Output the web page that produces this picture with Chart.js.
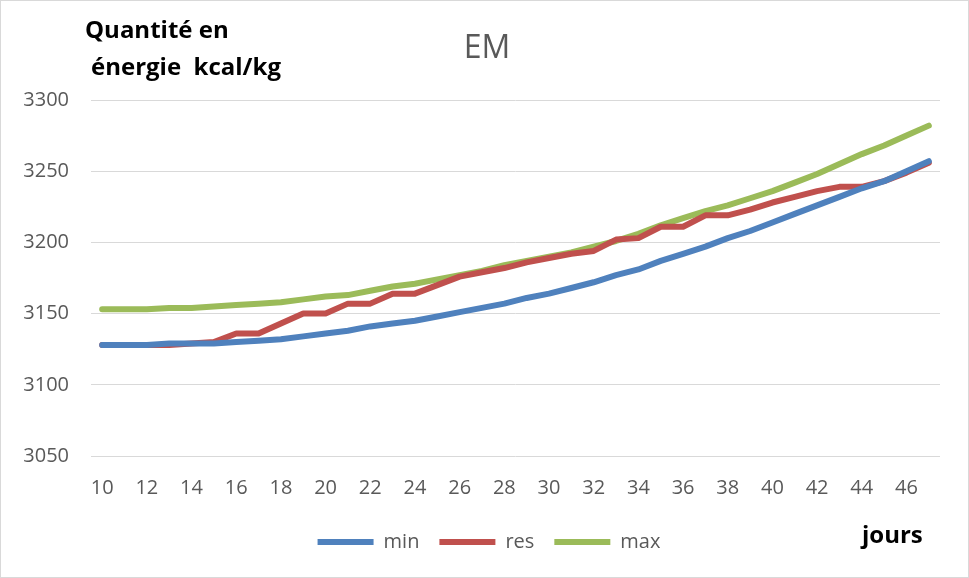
<!DOCTYPE html>
<html>
<head>
<meta charset="utf-8">
<script src="https://cdn.jsdelivr.net/npm/chart.js@4.4.1/dist/chart.umd.min.js"></script>
<style>
  html, body { margin: 0; padding: 0; background: #fff; }
  canvas { display: block; }
</style>
</head>
<body>
<canvas id="em" width="969" height="578"></canvas>
<script>
// jours d'élevage
const jours = [10, 11, 12, 13, 14, 15, 16, 17, 18, 19, 20, 21, 22, 23, 24, 25, 26, 27, 28,
  29, 30, 31, 32, 33, 34, 35, 36, 37, 38, 39, 40, 41, 42, 43, 44, 45, 46, 47];

// énergie métabolisable (kcal/kg)
const minEM = [3128, 3128, 3128, 3129, 3129, 3129, 3130, 3131, 3132, 3134, 3136, 3138, 3141,
  3143, 3145, 3148, 3151, 3154, 3157, 3161, 3164, 3168, 3172, 3177, 3181, 3187, 3192, 3197,
  3203, 3208, 3214, 3220, 3226, 3232, 3238, 3243, 3250, 3257];
const resEM = [3128, 3128, 3128, 3128, 3129, 3130, 3136, 3136, 3143, 3150, 3150, 3157, 3157,
  3164, 3164, 3170, 3176, 3179, 3182, 3186, 3189, 3192, 3194, 3202, 3203, 3211, 3211, 3219,
  3219, 3223, 3228, 3232, 3236, 3239, 3239, 3243, 3249, 3256];
const maxEM = [3153, 3153, 3153, 3154, 3154, 3155, 3156, 3157, 3158, 3160, 3162, 3163, 3166,
  3169, 3171, 3174, 3177, 3180, 3184, 3187, 3190, 3193, 3197, 3201, 3206, 3212, 3217, 3222,
  3226, 3231, 3236, 3242, 3248, 3255, 3262, 3268, 3275, 3282];

const yTicks = [3050, 3100, 3150, 3200, 3250, 3300];

const GRIS = '#595959';

// textes libres : titre, légendes des axes, cadre
const textes = {
  id: 'textes',
  afterLayout(chart) {
    // légende un peu décalée vers la droite
    chart.legend.left += 19;
    chart.legend.right += 19;
  },
  afterDraw(chart) {
    const ctx = chart.ctx;
    ctx.save();
    ctx.strokeStyle = '#d9d9d9';
    ctx.lineWidth = 1;
    ctx.strokeRect(0.5, 0.5, chart.width - 1, chart.height - 1);

    ctx.fillStyle = GRIS;
    ctx.font = '32px "Open Sans"';
    ctx.textAlign = 'center';
    ctx.textBaseline = 'middle';
    ctx.fillText('EM', 487, 49);

    ctx.fillStyle = '#000';
    ctx.font = 'bold 24px "Open Sans"';
    ctx.textAlign = 'left';
    ctx.textBaseline = 'alphabetic';
    ctx.fillText('Quantité en', 85, 38);
    ctx.fillText('énergie  kcal/kg', 91, 75);
    ctx.fillText('jours', 862, 543);
    ctx.restore();
  }
};

const serie = (label, data, color) => ({
  label,
  data,
  borderColor: color,
  backgroundColor: color,
  borderWidth: 6,
  borderCapStyle: 'round',
  borderJoinStyle: 'round',
  pointRadius: 0,
  pointHoverRadius: 0,
  tension: 0
});

new Chart(document.getElementById('em'), {
  type: 'line',
  data: {
    labels: jours,
    datasets: [
      serie('min', minEM, '#4f81bd'),
      serie('res', resEM, '#c0504d'),
      serie('max', maxEM, '#9bbb59')
    ]
  },
  options: {
    responsive: false,
    animation: false,
    devicePixelRatio: 1,
    layout: { padding: { top: 100, right: 29, left: 0, bottom: 16 } },
    scales: {
      x: {
        offset: true,
        grid: { display: false },
        border: { display: false },
        ticks: {
          autoSkip: false,
          maxRotation: 0,
          padding: 12,
          color: GRIS,
          font: { family: '"Open Sans"', size: 20 },
          callback: (v, i) => (i % 2 === 0 ? jours[i] : '')
        },
        afterFit: s => { s.height = 56; }
      },
      y: {
        min: 3050,
        max: 3300,
        afterBuildTicks: s => { s.ticks = yTicks.map(v => ({ value: v })); },
        grid: { color: '#d9d9d9', lineWidth: 1, drawTicks: false },
        border: { display: false },
        ticks: {
          padding: 22,
          color: GRIS,
          font: { family: '"Open Sans"', size: 20 },
          callback: v => String(v)
        },
        afterFit: s => { s.width = 91; }
      }
    },
    plugins: {
      legend: {
        position: 'bottom',
        labels: {
          usePointStyle: true,
          pointStyle: 'line',
          pointStyleWidth: 56,
          boxWidth: 56,
          boxHeight: 20,
          padding: 20,
          color: GRIS,
          font: { family: '"Open Sans"', size: 20 }
        }
      },
      tooltip: { enabled: false },
      title: { display: false }
    }
  },
  plugins: [textes]
});
</script>
</body>
</html>
